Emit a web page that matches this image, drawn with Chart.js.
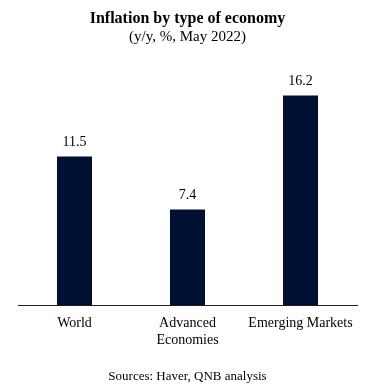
<!DOCTYPE html>
<html>
<head>
<meta charset="utf-8">
<script src="https://cdn.jsdelivr.net/npm/chart.js@4/dist/chart.umd.min.js"></script>
<style>
  html, body { margin: 0; padding: 0; background: #fff; }
  #wrap { width: 379px; height: 388px; position: relative; }
</style>
</head>
<body>
<div id="wrap"><canvas id="c" width="379" height="388"></canvas></div>
<script>
const categories = [["World"], ["Advanced", "Economies"], ["Emerging Markets"]];
const inflation = [11.5, 7.4, 16.2];
const titleText = "Inflation by type of economy";
const subtitleText = "(y/y, %, May 2022)";
const sourceText = "Sources: Haver, QNB analysis";

const FONT = "'Liberation Serif', 'Times New Roman', serif";

const labelsPlugin = {
  id: 'valueLabels',
  afterDatasetsDraw(chart) {
    const ctx = chart.ctx;
    const meta = chart.getDatasetMeta(0);
    ctx.save();
    ctx.font = "14px " + FONT;
    ctx.fillStyle = "#000";
    ctx.textAlign = "center";
    ctx.textBaseline = "middle";
    meta.data.forEach((bar, i) => {
      ctx.fillText(inflation[i].toFixed(1), bar.x, bar.y - 14.5);
    });
    ctx.restore();
  }
};

const sourcePlugin = {
  id: 'sourceNote',
  afterDraw(chart) {
    const ctx = chart.ctx;
    ctx.save();
    ctx.font = "13px " + FONT;
    ctx.fillStyle = "#000";
    ctx.textAlign = "center";
    ctx.textBaseline = "middle";
    ctx.fillText(sourceText, (chart.chartArea.left + chart.chartArea.right) / 2, chart.height - 11);
    ctx.restore();
  }
};

new Chart(document.getElementById('c'), {
  type: 'bar',
  data: {
    labels: categories,
    datasets: [{
      data: inflation,
      backgroundColor: '#001033',
      borderWidth: 0,
      barPercentage: 0.31,
      categoryPercentage: 1.0
    }]
  },
  options: {
    responsive: false,
    animation: false,
    devicePixelRatio: 1,
    layout: { padding: { top: 0, left: 18, right: 22, bottom: 29 } },
    plugins: {
      legend: { display: false },
      tooltip: { enabled: false },
      title: {
        display: true,
        text: titleText,
        color: '#000',
        font: { family: FONT, size: 16, weight: 'bold', lineHeight: 1.2 },
        padding: { top: 9, bottom: 0 }
      },
      subtitle: {
        display: true,
        text: subtitleText,
        color: '#000',
        font: { family: FONT, size: 15, weight: 'normal', lineHeight: 1.2 },
        padding: { top: 0, bottom: 26 }
      }
    },
    scales: {
      x: {
        grid: { display: false, drawTicks: false },
        border: { display: true, color: '#222', width: 1 },
        ticks: {
          color: '#000',
          padding: 10,
          maxRotation: 0,
          autoSkip: false,
          font: { family: FONT, size: 14, lineHeight: 1.2 }
        }
      },
      y: {
        display: false,
        min: 0,
        max: 18
      }
    }
  },
  plugins: [labelsPlugin, sourcePlugin]
});
</script>
</body>
</html>
